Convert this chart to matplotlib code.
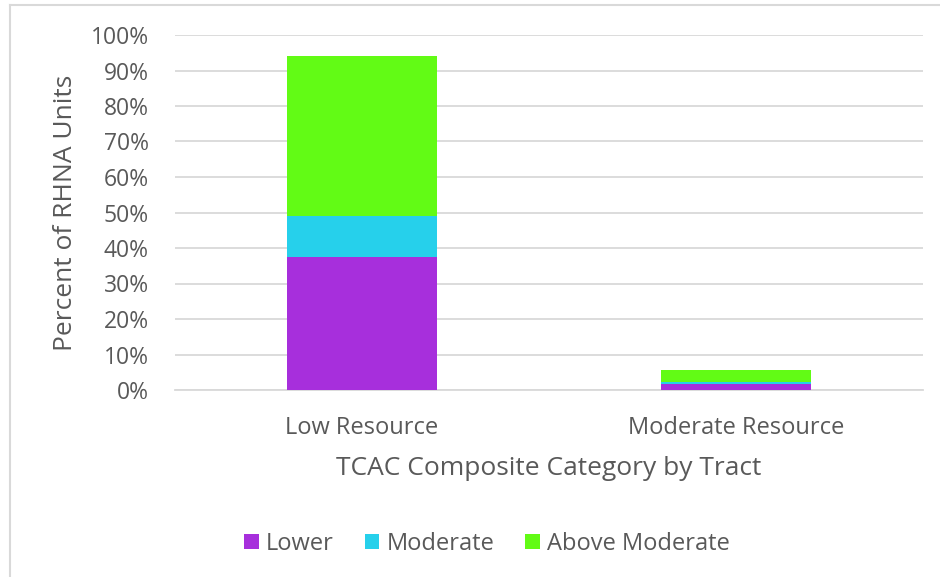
import matplotlib
matplotlib.use("Agg")
import matplotlib.pyplot as plt
from matplotlib.lines import Line2D
import numpy as np

# data (percent of RHNA units)
categories = ["Low Resource", "Moderate Resource"]
series_names = ["Lower", "Moderate", "Above Moderate"]
lower = [37.5, 1.8]
moderate = [11.5, 0.4]
above_moderate = [45.1, 3.4]
y_ticks = [0, 10, 20, 30, 40, 50, 60, 70, 80, 90, 100]

colors = ["#a72fdc", "#26d0eb", "#62fb15"]
text_color = "#595959"
grid_color = "#d9d9d9"

plt.rcParams['font.family'] = ['Open Sans', 'DejaVu Sans']

fig = plt.figure(figsize=(9.4, 5.77), dpi=100)
ax = fig.add_axes([175 / 940, 1 - 390 / 577, 748 / 940, 355 / 577])

x = np.arange(len(categories))
bottom = np.zeros(len(categories))
for name, vals, col in zip(series_names, [lower, moderate, above_moderate], colors):
    ax.bar(x, vals, width=0.4, bottom=bottom, color=col, label=name, zorder=3)
    bottom += np.array(vals)

ax.set_xlim(-0.5, len(categories) - 0.5)
ax.set_ylim(0, 100)
ax.set_yticks(y_ticks)
ax.set_yticklabels(["%d%%" % v for v in y_ticks])
ax.set_xticks(x)
ax.set_xticklabels(categories)
ax.tick_params(axis='y', length=0, pad=19, labelsize=16.5, labelcolor=text_color)
ax.tick_params(axis='x', length=0, pad=19, labelsize=17, labelcolor=text_color)
ax.grid(axis='y', color=grid_color, lw=1.3, zorder=0)
for side in ["top", "right", "left"]:
    ax.spines[side].set_visible(False)
ax.spines["bottom"].set_color(grid_color)
ax.spines["bottom"].set_linewidth(1.3)

ax.set_ylabel("Percent of RHNA Units", fontsize=19, color=text_color)
ax.yaxis.set_label_coords(-0.147, 0.5)
ax.yaxis.label.set_va('center')
ax.set_xlabel("TCAC Composite Category by Tract", fontsize=19, color=text_color)
ax.xaxis.set_label_coords(0.5, -0.222)
ax.xaxis.label.set_va('center')

leg = fig.legend(loc='center', bbox_to_anchor=(0.518, 1 - 544 / 577), ncol=3,
                 frameon=False, fontsize=17, handlelength=0.62, handleheight=0.62,
                 handletextpad=0.3, columnspacing=1.3)
for t in leg.get_texts():
    t.set_color(text_color)

# outer chart border (top and left visible)
fig.add_artist(Line2D([10 / 940, 1], [1 - 5 / 577, 1 - 5 / 577], transform=fig.transFigure,
                      color=grid_color, lw=1.5))
fig.add_artist(Line2D([10 / 940, 10 / 940], [0, 1 - 5 / 577], transform=fig.transFigure,
                      color=grid_color, lw=1.5))

fig.savefig("out.png", dpi=100)
